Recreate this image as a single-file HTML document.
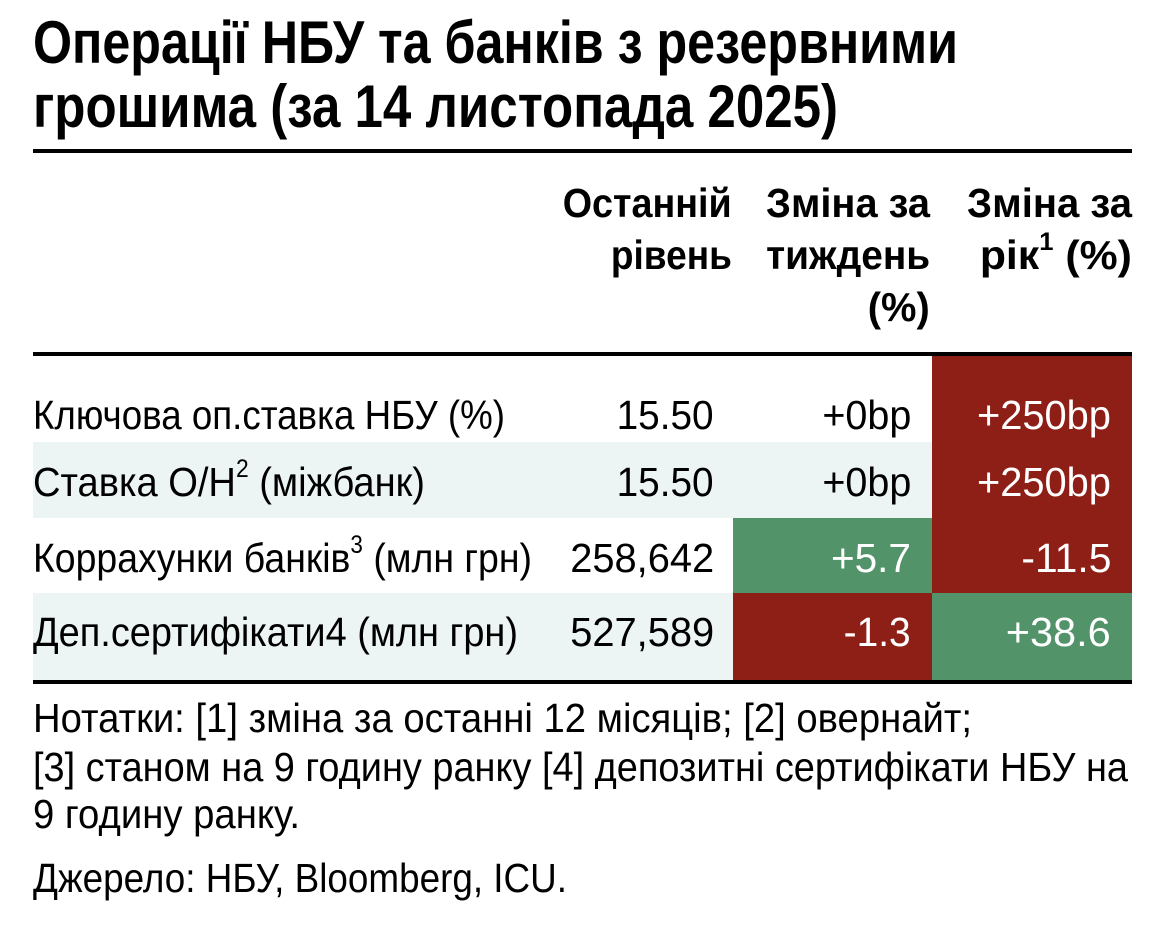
<!DOCTYPE html>
<html><head><meta charset="utf-8">
<style>
html,body{margin:0;padding:0;background:#fff;}
body{width:1153px;height:929px;position:relative;overflow:hidden;font-family:"Liberation Sans Narrow","Liberation Sans",sans-serif;color:#000;}
.t{position:absolute;white-space:nowrap;line-height:1;}
.b{font-weight:bold;}
.l{transform-origin:0 50%;}
.r{transform-origin:100% 50%;}
.w{color:#fff;}
.box{position:absolute;}
sup{font-size:0.6em;position:relative;top:-0.15em;vertical-align:top;line-height:1;}
</style></head><body>
<div class="box" style="left:33px;top:149px;width:1099px;height:4px;background:#000"></div>
<div class="box" style="left:33px;top:352px;width:1099px;height:4px;background:#000"></div>
<div class="box" style="left:33px;top:442px;width:900px;height:76px;background:#ecf5f4"></div>
<div class="box" style="left:33px;top:593px;width:700px;height:87px;background:#ecf5f4"></div>
<div class="box" style="left:932px;top:356px;width:200px;height:237px;background:#8e1f17"></div>
<div class="box" style="left:733px;top:518px;width:199px;height:75px;background:#52936a"></div>
<div class="box" style="left:733px;top:593px;width:199px;height:87px;background:#8e1f17"></div>
<div class="box" style="left:932px;top:593px;width:200px;height:87px;background:#52936a"></div>
<div class="box" style="left:33px;top:680px;width:1099px;height:4px;background:#000"></div>

<div class="t b l" style="left:33px;top:13px;font-size:60px" w="925">Операції НБУ та банків з резервними</div>
<div class="t b l" style="left:33px;top:77px;font-size:60px" w="805">грошима (за 14 листопада 2025)</div>

<div class="t b r" style="right:421px;top:183px;font-size:41px" w="169">Останній</div>
<div class="t b r" style="right:421px;top:235px;font-size:41px" w="121">рівень</div>
<div class="t b r" style="right:223px;top:183px;font-size:41px" w="164">Зміна за</div>
<div class="t b r" style="right:223px;top:235px;font-size:41px" w="164">тиждень</div>
<div class="t b r" style="right:223px;top:287px;font-size:41px" w="62">(%)</div>
<div class="t b r" style="right:21px;top:183px;font-size:41px" w="165">Зміна за</div>
<div class="t b r" style="right:21px;top:235px;font-size:41px" w="152">рік<sup>1</sup> (%)</div>

<div class="t l" style="left:33px;top:395px;font-size:41px" w="472">Ключова оп.ставка НБУ (%)</div>
<div class="t l" style="left:33px;top:462px;font-size:41px" w="392">Ставка О/Н<sup>2</sup> (міжбанк)</div>
<div class="t l" style="left:33px;top:538px;font-size:41px" w="499">Коррахунки банків<sup>3</sup> (млн грн)</div>
<div class="t l" style="left:33px;top:612px;font-size:41px" w="485">Деп.сертифікати4 (млн грн)</div>

<div class="t r" style="right:439px;top:395px;font-size:41px" w="97">15.50</div>
<div class="t r" style="right:439px;top:462px;font-size:41px" w="97">15.50</div>
<div class="t r" style="right:439px;top:538px;font-size:41px" w="144">258,642</div>
<div class="t r" style="right:439px;top:612px;font-size:41px" w="144">527,589</div>

<div class="t r" style="right:242px;top:395px;font-size:41px" w="89">+0bp</div>
<div class="t r" style="right:242px;top:462px;font-size:41px" w="89">+0bp</div>
<div class="t r w" style="right:242px;top:538px;font-size:41px" w="80">+5.7</div>
<div class="t r w" style="right:242px;top:612px;font-size:41px" w="67">-1.3</div>

<div class="t r w" style="right:42px;top:395px;font-size:41px" w="134">+250bp</div>
<div class="t r w" style="right:42px;top:462px;font-size:41px" w="134">+250bp</div>
<div class="t r w" style="right:42px;top:538px;font-size:41px" w="90">-11.5</div>
<div class="t r w" style="right:42px;top:612px;font-size:41px" w="105">+38.6</div>

<div class="t l" style="left:33px;top:698px;font-size:41px" w="939">Нотатки: [1] зміна за останні 12 місяців; [2] овернайт;</div>
<div class="t l" style="left:33px;top:747px;font-size:41px" w="1095">[3] станом на 9 годину ранку [4] депозитні сертифікати НБУ на</div>
<div class="t l" style="left:33px;top:794px;font-size:41px" w="267">9 годину ранку.</div>
<div class="t l" style="left:33px;top:858px;font-size:41px" w="534">Джерело: НБУ, Bloomberg, ICU.</div>

<script>
document.querySelectorAll('.t').forEach(function(e){
  var w=parseFloat(e.getAttribute('w'));
  var cw=e.getBoundingClientRect().width;
  if(w&&cw){e.style.transform='scaleX('+(w/cw)+')';}
});
</script>
</body></html>
